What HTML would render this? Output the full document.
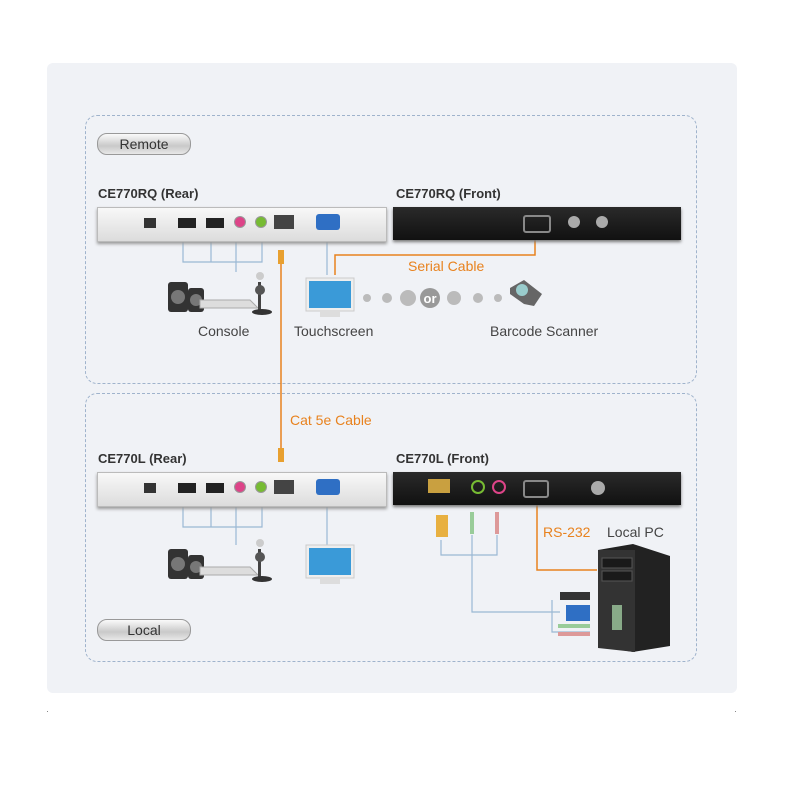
<!DOCTYPE html>
<html><head><meta charset="utf-8"><style>
body{margin:0;width:800px;height:800px;background:#fff;position:relative;overflow:hidden;font-family:"Liberation Sans",sans-serif}
.a{position:absolute}
.box{position:absolute;border:1px dashed #9fb3cc;border-radius:12px}
.pill{position:absolute;width:92px;height:20px;border-radius:10px;background:linear-gradient(#fafafa,#c9c9c9 60%,#e8e8e8);border:1px solid #999;font-size:14px;color:#333;text-align:center;line-height:20px}
.h{position:absolute;font-weight:bold;font-size:13px;color:#333}
.rear{position:absolute;width:288px;height:33px;background:linear-gradient(#f8f8f8,#dcdcdc);border:1px solid #bbb;box-shadow:0 2px 3px #999}
.front{position:absolute;width:288px;height:33px;background:linear-gradient(#2a2a2a,#111);box-shadow:0 2px 3px #777}
.lbl{position:absolute;font-size:14px;color:#444}
.or{position:absolute;font-size:14px;color:#e8821e}
</style></head><body>
<div class="a" style="left:47px;top:63px;width:690px;height:630px;background:#f0f2f6;border-radius:6px"></div>
<div class="a" style="left:47px;top:711px;width:1px;height:1px;background:#888"></div>
<div class="a" style="left:735px;top:711px;width:1px;height:1px;background:#888"></div>
<div class="box" style="left:85px;top:115px;width:610px;height:267px"></div>
<div class="box" style="left:85px;top:393px;width:610px;height:267px"></div>
<div class="pill" style="left:97px;top:133px">Remote</div>
<div class="pill" style="left:97px;top:619px">Local</div>

<div class="h" style="left:98px;top:186px">CE770RQ (Rear)</div>
<div class="h" style="left:396px;top:186px">CE770RQ (Front)</div>
<div class="h" style="left:98px;top:451px">CE770L (Rear)</div>
<div class="h" style="left:396px;top:451px">CE770L (Front)</div>

<svg class="a" style="left:0;top:0" width="800" height="800">
<g fill="none" stroke="#9ab8d4" stroke-width="1.2">
<path d="M183 240V262H262V240M211 240V262M236 240V262M236 262V272"/>
<path d="M327 240V275"/>
<path d="M183 505V527H262V505M211 505V527M236 505V527M236 527V545"/>
<path d="M327 505V545"/>
<path d="M441 540V555H497V535M472 535V612H560M552 600V632H590"/>
</g>
<g fill="none" stroke="#e8821e" stroke-width="1.5">
<path d="M281 250V462"/>
<path d="M535 240V255H335V275"/>
<path d="M537 495V570H597"/>
</g>
<rect x="278" y="250" width="6" height="14" fill="#e8a030"/>
<rect x="278" y="448" width="6" height="14" fill="#e8a030"/>
<g fill="#bbb"><circle cx="367" cy="298" r="4"/><circle cx="387" cy="298" r="5"/><circle cx="408" cy="298" r="8"/><circle cx="454" cy="298" r="7"/><circle cx="478" cy="298" r="5"/><circle cx="498" cy="298" r="4"/></g>
<circle cx="430" cy="298" r="10" fill="#999"/>
<text x="430" y="303" font-size="13" font-weight="bold" fill="#fff" text-anchor="middle" font-family="Liberation Sans">or</text>
<g><rect x="306" y="278" width="48" height="33" fill="#eee" stroke="#ccc"/><rect x="309" y="281" width="42" height="27" fill="#3a9ad8"/><rect x="320" y="311" width="20" height="6" fill="#ddd"/></g>
<g><rect x="306" y="545" width="48" height="33" fill="#eee" stroke="#ccc"/><rect x="309" y="548" width="42" height="27" fill="#3a9ad8"/><rect x="320" y="578" width="20" height="6" fill="#ddd"/></g>
<path d="M510 288l14-8 18 14-8 12-10-2-14-10z" fill="#666"/><circle cx="522" cy="290" r="6" fill="#9cc"/>
<g id="c1"><rect x="168" y="282" width="20" height="30" rx="3" fill="#333"/><circle cx="178" cy="297" r="7" fill="#777"/><rect x="188" y="288" width="16" height="24" rx="3" fill="#333"/><circle cx="196" cy="300" r="6" fill="#777"/><path d="M200 300h50l8 8h-58z" fill="#ddd" stroke="#aaa"/><rect x="258" y="282" width="3" height="28" fill="#444"/><circle cx="260" cy="290" r="5" fill="#555"/><ellipse cx="262" cy="312" rx="10" ry="3" fill="#333"/><circle cx="260" cy="276" r="4" fill="#ccc"/></g>
<use href="#c1" transform="translate(0,267)"/>
<path d="M598 550l35-6 37 12v90l-37 6-35-6z" fill="#222"/><path d="M598 550h37v102l-37-4z" fill="#333"/>
<rect x="602" y="558" width="30" height="10" fill="#1a1a1a" stroke="#555"/><rect x="602" y="571" width="30" height="10" fill="#1a1a1a" stroke="#555"/><rect x="612" y="605" width="10" height="25" fill="#8a8"/>
<rect x="436" y="515" width="12" height="22" fill="#e8b040"/>
<rect x="470" y="512" width="4" height="22" fill="#9c9"/><rect x="495" y="512" width="4" height="22" fill="#d99"/>
<rect x="560" y="592" width="30" height="8" fill="#333"/><rect x="566" y="605" width="24" height="16" fill="#2f6fc4"/>
<rect x="558" y="624" width="32" height="4" fill="#9c9"/><rect x="558" y="632" width="32" height="4" fill="#d99"/>
</svg>

<div class="rear" style="left:97px;top:207px"><div class="a" style="left:46px;top:10px;width:12px;height:10px;background:#333"></div>
<div class="a" style="left:80px;top:10px;width:18px;height:10px;background:#222"></div><div class="a" style="left:108px;top:10px;width:18px;height:10px;background:#222"></div>
<div class="a" style="left:136px;top:8px;width:10px;height:10px;border-radius:50%;background:#d48;border:1px solid #999"></div>
<div class="a" style="left:157px;top:8px;width:10px;height:10px;border-radius:50%;background:#7b3;border:1px solid #999"></div>
<div class="a" style="left:176px;top:7px;width:20px;height:14px;background:#444"></div>
<div class="a" style="left:218px;top:6px;width:24px;height:16px;background:#2f6fc4;border-radius:3px"></div></div>
<div class="rear" style="left:97px;top:472px"><div class="a" style="left:46px;top:10px;width:12px;height:10px;background:#333"></div>
<div class="a" style="left:80px;top:10px;width:18px;height:10px;background:#222"></div><div class="a" style="left:108px;top:10px;width:18px;height:10px;background:#222"></div>
<div class="a" style="left:136px;top:8px;width:10px;height:10px;border-radius:50%;background:#d48;border:1px solid #999"></div>
<div class="a" style="left:157px;top:8px;width:10px;height:10px;border-radius:50%;background:#7b3;border:1px solid #999"></div>
<div class="a" style="left:176px;top:7px;width:20px;height:14px;background:#444"></div>
<div class="a" style="left:218px;top:6px;width:24px;height:16px;background:#2f6fc4;border-radius:3px"></div></div>
<div class="front" style="left:393px;top:207px"><div class="a" style="left:130px;top:8px;width:24px;height:14px;border:2px solid #888;border-radius:3px"></div>
<div class="a" style="left:175px;top:9px;width:12px;height:12px;border-radius:50%;background:#aaa"></div><div class="a" style="left:203px;top:9px;width:12px;height:12px;border-radius:50%;background:#aaa"></div></div>
<div class="front" style="left:393px;top:472px"><div class="a" style="left:35px;top:7px;width:22px;height:14px;background:#c9a040"></div>
<div class="a" style="left:78px;top:8px;width:10px;height:10px;border-radius:50%;border:2px solid #7b3"></div><div class="a" style="left:99px;top:8px;width:10px;height:10px;border-radius:50%;border:2px solid #d48"></div>
<div class="a" style="left:130px;top:8px;width:22px;height:14px;border:2px solid #888;border-radius:3px"></div>
<div class="a" style="left:198px;top:9px;width:14px;height:14px;border-radius:50%;background:#aaa"></div></div>

<div class="lbl" style="left:198px;top:323px">Console</div>
<div class="lbl" style="left:294px;top:323px">Touchscreen</div>
<div class="lbl" style="left:490px;top:323px">Barcode Scanner</div>
<div class="lbl" style="left:607px;top:524px">Local PC</div>
<div class="or" style="left:408px;top:258px">Serial Cable</div>
<div class="or" style="left:290px;top:412px">Cat 5e Cable</div>
<div class="or" style="left:543px;top:524px">RS-232</div>
</body></html>
